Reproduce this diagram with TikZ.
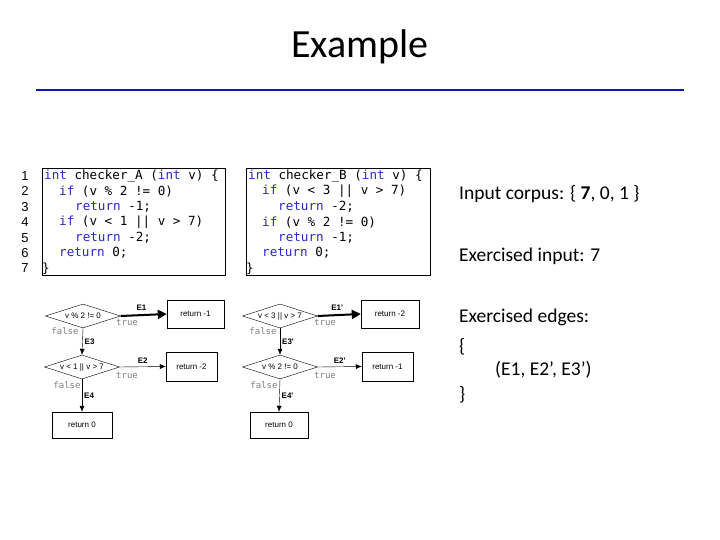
\documentclass[tikz,border=0pt]{standalone}
\usepackage{fontspec}
\setmainfont{Carlito}
\newfontfamily\codefont{DejaVu Sans Mono}
\newfontfamily\lblfont{Liberation Sans}
\usetikzlibrary{shapes.geometric,arrows.meta}
\definecolor{kw}{RGB}{40,40,200}
\definecolor{titleblue}{RGB}{20,20,190}
\begin{document}
\begin{tikzpicture}[x=1pt,y=-1pt,
  cl/.style={anchor=west,inner sep=0pt,font=\codefont\fontsize{12.6}{12.6}\selectfont},
  ln/.style={anchor=center,inner sep=0pt,font=\lblfont\fontsize{13}{13}\selectfont},
  dia/.style={draw,diamond,aspect=3.2,inner sep=0pt,minimum width=75pt,minimum height=24pt,font=\lblfont\fontsize{8}{8}\selectfont},
  box/.style={draw,minimum height=28pt,font=\lblfont\fontsize{8}{8}\selectfont},
  el/.style={font=\lblfont\bfseries\fontsize{8}{8}\selectfont,inner sep=0pt},
  tf/.style={font=\codefont\fontsize{9}{9}\selectfont,text=gray,inner sep=0pt},
  rt/.style={anchor=west,inner sep=0pt,font=\fontsize{19.5}{19.5}\selectfont},
  arr/.style={-{Latex[length=6pt,width=5pt]},thin},
  barr/.style={-{Triangle[length=9pt,width=9pt]},line width=2pt}]
\useasboundingbox (0,0) rectangle (720,540);
\node[font=\fontsize{40}{40}\selectfont] (title) at (360,47) {Example};
\draw[titleblue,line width=2.5pt] (36,90) -- (684,90);
% line numbers
\foreach \i in {1,...,7} {\node[ln] (n\i) at (25,{176+(\i-1)*15.4}) {\i};}
\node[draw,minimum width=183pt,minimum height=107pt,anchor=north west,inner sep=0pt] (boxA) at (42,168) {};
\node[draw,minimum width=184pt,minimum height=107pt,anchor=north west,inner sep=0pt] (boxB) at (246,168) {};
% code A
\node[cl] (a1) at (44,176) {\textcolor{kw}{int} checker\_A (\textcolor{kw}{int} v) \{};
\node[cl] (a2) at (59,191.4) {\textcolor{kw}{if} (v \% 2 != 0)};
\node[cl] (a3) at (75,206.8) {\textcolor{kw}{return} -1;};
\node[cl] (a4) at (59,222.2) {\textcolor{kw}{if} (v < 1 || v > 7)};
\node[cl] (a5) at (75,237.6) {\textcolor{kw}{return} -2;};
\node[cl] (a6) at (59,253) {\textcolor{kw}{return} 0;};
\node[cl] (a7) at (42,268.4) {\}};
% code B
\node[cl] (b1) at (248,176) {\textcolor{kw}{int} checker\_B (\textcolor{kw}{int} v) \{};
\node[cl] (b2) at (262,191.4) {\textcolor{kw}{if} (v < 3 || v > 7)};
\node[cl] (b3) at (278,206.8) {\textcolor{kw}{return} -2;};
\node[cl] (b4) at (262,222.2) {\textcolor{kw}{if} (v \% 2 != 0)};
\node[cl] (b5) at (278,237.6) {\textcolor{kw}{return} -1;};
\node[cl] (b6) at (262,253) {\textcolor{kw}{return} 0;};
\node[cl] (b7) at (246,268.4) {\}};
% flowchart A
\node[dia] (da1) at (83,316) {v \% 2 != 0};
\node[box,minimum width=57pt] (ra1) at (195.5,314) {return -1};
\node[dia] (da2) at (82,367) {v < 1 || v > 7};
\node[box,minimum width=51pt,minimum height=29pt] (ra2) at (191.5,366.5) {return -2};
\node[box,minimum width=60pt,minimum height=26pt] (ra3) at (82,425) {return 0};
\draw[barr] (da1.east) -- (ra1.west) node[el,pos=0.45,above=4pt] {E1};
\draw[arr] (da1.south) -- (da2.north) node[el,midway,right=2pt] {E3};
\draw[arr] (da2.east) -- (ra2.west) node[el,midway,above=3pt] {E2};
\draw[arr] (da2.south) -- (ra3.north) node[el,midway,right=2pt] {E4};
\node[tf] (ta1) at (127,322) {true};
\node[tf] (fa1) at (65,331) {false};
\node[tf] (ta2) at (127,375) {true};
\node[tf] (fa2) at (67,385) {false};
% flowchart B
\node[dia] (db1) at (280,316) {v < 3 || v > 7};
\node[box,minimum width=58pt] (rb1) at (390,314) {return -2};
\node[dia] (db2) at (280,367) {v \% 2 != 0};
\node[box,minimum width=51pt,minimum height=29pt] (rb2) at (387.5,366.5) {return -1};
\node[box,minimum width=58pt,minimum height=26pt] (rb3) at (279,425) {return 0};
\draw[barr] (db1.east) -- (rb1.west) node[el,pos=0.45,above=4pt] {E1'};
\draw[arr] (db1.south) -- (db2.north) node[el,midway,right=2pt] {E3'};
\draw[arr] (db2.east) -- (rb2.west) node[el,midway,above=3pt] {E2'};
\draw[arr] (db2.south) -- (rb3.north) node[el,midway,right=2pt] {E4'};
\node[tf] (tb1) at (325,322) {true};
\node[tf] (fb1) at (263,331) {false};
\node[tf] (tb2) at (325,375) {true};
\node[tf] (fb2) at (264,385) {false};
% right text
\node[rt] (t1) at (459,194) {Input corpus: \{ \textbf{7}, 0, 1 \}};
\node[rt] (t2) at (459,256) {Exercised input: 7};
\node[rt] (t3) at (459,317) {Exercised edges:};
\node[rt] (t4) at (459,347) {\{};
\node[rt] (t5) at (495,370) {(E1, E2’, E3’)};
\node[rt] (t6) at (459,395) {\}};
\end{tikzpicture}
\end{document}
